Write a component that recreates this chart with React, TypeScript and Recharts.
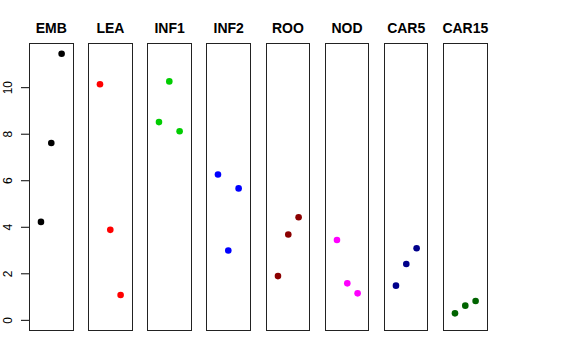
import { ScatterChart, Scatter, XAxis, YAxis } from "recharts"

// panel names and colours, left to right
const panels = ["EMB", "LEA", "INF1", "INF2", "ROO", "NOD", "CAR5", "CAR15"]
const colors = ["#000000", "#FF0000", "#00CD00", "#0000FF", "#8B0000", "#FF00FF", "#00008B", "#006400"]

// three replicate values per panel (x = 1, 2, 3)
const replicate = [1, 2, 3]
const emb = [4.23, 7.62, 11.46]
const lea = [10.15, 3.89, 1.09]
const inf1 = [8.52, 10.27, 8.13]
const inf2 = [6.27, 3.0, 5.67]
const roo = [1.9, 3.69, 4.43]
const nod = [3.45, 1.59, 1.16]
const car5 = [1.49, 2.42, 3.1]
const car15 = [0.3, 0.63, 0.83]
const values = [emb, lea, inf1, inf2, roo, nod, car5, car15]

const yTicks = [0, 2, 4, 6, 8, 10]

const PANEL_W = 44.6
const PANEL_H = 288
const TOP = 43
const FIRST_LEFT = 29
const STEP = 59.15
const AXIS_W = 29

const Dot = (props: any) => {
    const { cx, cy, fill } = props
    return <circle cx={cx} cy={cy} r={3.3} fill={fill} />
}

const YTick = (props: any) => {
    const { y, payload } = props
    return (
        <text x={8} y={y} transform={`rotate(-90 8 ${y})`} textAnchor="middle" dominantBaseline="central"
            fontSize={12} fill="#000">
            {payload.value}
        </text>
    )
}

function Panel({ i }: { i: number }) {
    const data = replicate.map((x, k) => ({ x, y: values[i][k] }))
    const left = FIRST_LEFT + i * STEP
    const withAxis = i === 0
    const chartLeft = withAxis ? left - AXIS_W : left
    const chartW = withAxis ? PANEL_W + AXIS_W : PANEL_W
    return (
        <>
            <div style={{
                position: "absolute", left: left - 20, width: PANEL_W + 40, top: 19,
                textAlign: "center", fontWeight: "bold", fontSize: 14, lineHeight: "18px"
            }}>
                {panels[i]}
            </div>
            <div style={{ position: "absolute", left: chartLeft, top: TOP }}>
                <ScatterChart width={chartW} height={PANEL_H} margin={{ top: 0, right: 0, bottom: 0, left: 0 }}>
                    <XAxis type="number" dataKey="x" hide domain={[-0.16, 4.16]} />
                    <YAxis type="number" dataKey="y" hide={!withAxis} width={AXIS_W} domain={[-0.458, 11.92]}
                        ticks={yTicks} axisLine={false} tickSize={8} tickLine={{ stroke: "#000" }} tick={<YTick />} />
                    <Scatter data={data} fill={colors[i]} shape={<Dot />} isAnimationActive={false} />
                </ScatterChart>
            </div>
            <div style={{
                position: "absolute", left, top: TOP, width: PANEL_W, height: PANEL_H,
                border: "1px solid #222", boxSizing: "border-box", pointerEvents: "none"
            }} />
        </>
    )
}

export default function App() {
    return (
        <div style={{
            position: "absolute", left: 0, top: 0, width: 576, height: 360, background: "#fff",
            fontFamily: "'Liberation Sans', Arial, sans-serif"
        }}>
            {panels.map((_, i) => <Panel key={i} i={i} />)}
        </div>
    )
}
